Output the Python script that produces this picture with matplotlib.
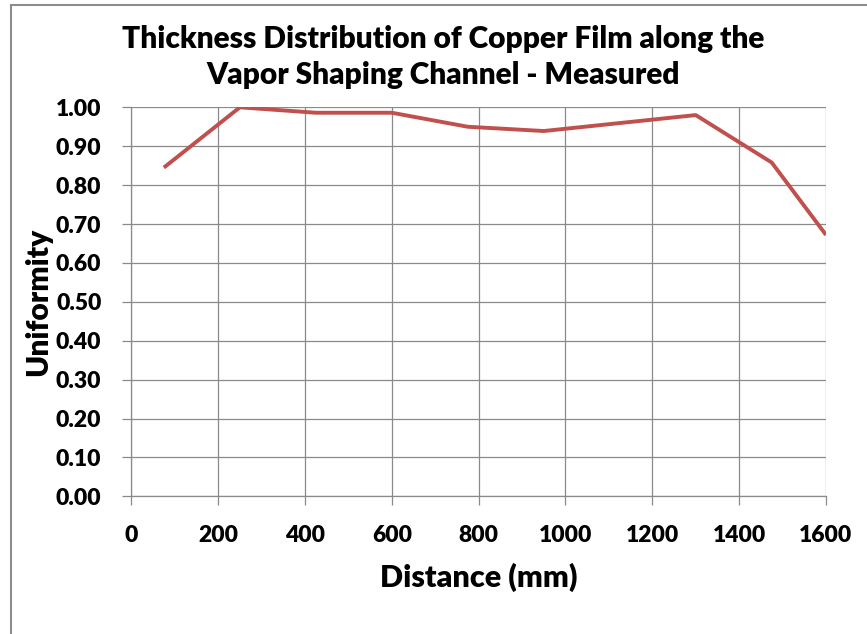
import matplotlib
matplotlib.use("Agg")
import matplotlib.pyplot as plt
from matplotlib.patches import Rectangle

distance_mm = [75, 250, 425, 600, 775, 950, 1300, 1475, 1600]
uniformity = [0.845, 1.00, 0.986, 0.986, 0.950, 0.939, 0.980, 0.858, 0.672]
x_ticks = [0, 200, 400, 600, 800, 1000, 1200, 1400, 1600]
y_ticks = [0.0, 0.1, 0.2, 0.3, 0.4, 0.5, 0.6, 0.7, 0.8, 0.9, 1.0]
title = "Thickness Distribution of Copper Film along the\nVapor Shaping Channel - Measured"
x_label = "Distance (mm)"
y_label = "Uniformity"

plt.rcParams['font.family'] = ['Lato', 'DejaVu Sans']
W = 'heavy'

fig = plt.figure(figsize=(8.67, 6.34), dpi=100)
fig.patches.append(Rectangle((11/867, -0.1), 1.2, 1 - 5/634 + 0.1, transform=fig.transFigure,
                             fill=False, edgecolor='#8c8c8c', linewidth=1.5))
ax = fig.add_axes([131.3/867, 1 - 496.3/634, (826 - 131.3)/867, (496.3 - 107.3)/634])

grid_c = '#8a8a8a'
ax.plot(distance_mm, uniformity, color='#C0504D', linewidth=2.8, solid_capstyle='butt', zorder=3)
ax.set_xlim(0, 1600)
ax.set_ylim(0, 1.0)
ax.set_xticks(x_ticks)
ax.set_yticks(y_ticks)
ax.set_yticklabels([f"{v:.2f}" for v in y_ticks])
ax.grid(True, color=grid_c, linewidth=0.9)
ax.set_axisbelow(True)
for s in ['top', 'right']:
    ax.spines[s].set_visible(False)
for s in ['left', 'bottom']:
    ax.spines[s].set_color(grid_c)
    ax.spines[s].set_linewidth(0.9)
ax.tick_params(axis='both', direction='out', length=6.5, width=0.9, color=grid_c,
               labelsize=16.5, pad=15)
ax.tick_params(axis='x', pad=14)
for lbl in ax.get_xticklabels() + ax.get_yticklabels():
    lbl.set_fontweight(W)

ax.set_xlabel(x_label, fontsize=22, fontweight=W, labelpad=12)
ax.set_ylabel(y_label, fontsize=21.5, fontweight=W, labelpad=3)
fig.text(443/867, 1 - 57/634, title, ha='center', va='center', fontsize=21.5,
         fontweight=W, linespacing=1.33)

fig.savefig("out.png", dpi=100)
